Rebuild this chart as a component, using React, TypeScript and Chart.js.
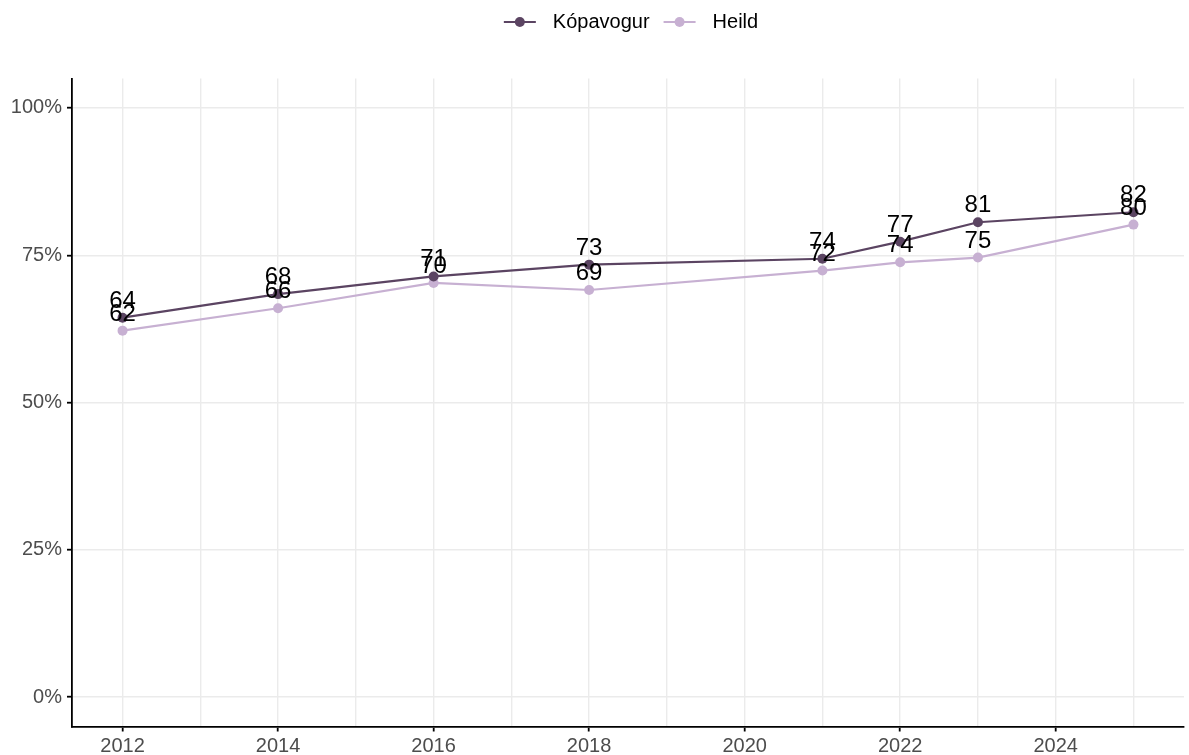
import React, { useEffect, useRef } from "react";
import { Chart, registerables } from "chart.js";

Chart.register(...registerables);

const years = [2012, 2014, 2016, 2018, 2021, 2022, 2023, 2025];
const kopavogur = [0.644, 0.684, 0.714, 0.734, 0.744, 0.773, 0.806, 0.823];
const heild = [0.622, 0.66, 0.703, 0.691, 0.724, 0.738, 0.746, 0.802];
const seriesNames = ["Kópavogur", "Heild"];
const seriesColors = ["#5b4462", "#c7b0d2"];
const xTickValues = [2012, 2013, 2014, 2015, 2016, 2017, 2018, 2019, 2020, 2021, 2022, 2023, 2024, 2025];
const xLabelYears = [2012, 2014, 2016, 2018, 2020, 2022, 2024];
const yTickValues = [0, 0.25, 0.5, 0.75, 1];
const yTickLabels = ["0%", "25%", "50%", "75%", "100%"];

const FONT = '"Liberation Sans", Arial, Helvetica, sans-serif';

const dataLabelPlugin = {
  id: "dataLabels",
  afterDatasetsDraw(chart: any) {
    const ctx = chart.ctx;
    ctx.save();
    ctx.font = `24px ${FONT}`;
    ctx.fillStyle = "#000";
    ctx.textAlign = "center";
    ctx.textBaseline = "alphabetic";
    chart.data.datasets.forEach((ds: any, di: number) => {
      const meta = chart.getDatasetMeta(di);
      meta.data.forEach((el: any, i: number) => {
        const v = ds.data[i].y;
        ctx.fillText(String(Math.round(v * 100)), el.x, el.y - 10);
      });
    });
    ctx.restore();
  },
};

const legendPlugin = {
  id: "customLegend",
  afterDraw(chart: any) {
    const ctx = chart.ctx;
    const area = chart.chartArea;
    ctx.save();
    ctx.font = `20px ${FONT}`;
    const iconW = 32;
    const iconGap = 17;
    const itemGap = 14;
    const widths = seriesNames.map((n) => ctx.measureText(n).width);
    let total = 0;
    widths.forEach((w, i) => {
      total += iconW + iconGap + w + (i < widths.length - 1 ? itemGap : 0);
    });
    let x = (area.left + area.right) / 2 - total / 2 + 3;
    const y = 22;
    seriesNames.forEach((name, i) => {
      ctx.strokeStyle = seriesColors[i];
      ctx.lineWidth = 2.2;
      ctx.beginPath();
      ctx.moveTo(x, y);
      ctx.lineTo(x + iconW, y);
      ctx.stroke();
      ctx.fillStyle = seriesColors[i];
      ctx.beginPath();
      ctx.arc(x + iconW / 2, y, 5, 0, Math.PI * 2);
      ctx.fill();
      ctx.fillStyle = "#000";
      ctx.textAlign = "left";
      ctx.textBaseline = "middle";
      ctx.fillText(name, x + iconW + iconGap, y);
      x += iconW + iconGap + widths[i] + itemGap;
    });
    ctx.restore();
  },
};

export default function App() {
  const ref = useRef<HTMLCanvasElement>(null);

  useEffect(() => {
    if (!ref.current) return;
    const chart = new Chart(ref.current, {
      type: "line",
      data: {
        datasets: [
          {
            label: seriesNames[0],
            data: years.map((yr, i) => ({ x: yr, y: kopavogur[i] })),
            borderColor: seriesColors[0],
            backgroundColor: seriesColors[0],
            pointBackgroundColor: seriesColors[0],
            pointBorderWidth: 0,
            pointRadius: 5,
            borderWidth: 2.2,
            tension: 0,
          },
          {
            label: seriesNames[1],
            data: years.map((yr, i) => ({ x: yr, y: heild[i] })),
            borderColor: seriesColors[1],
            backgroundColor: seriesColors[1],
            pointBackgroundColor: seriesColors[1],
            pointBorderWidth: 0,
            pointRadius: 5,
            borderWidth: 2.2,
            tension: 0,
          },
        ],
      },
      options: {
        responsive: false,
        animation: false,
        devicePixelRatio: 1,
        layout: { padding: { top: 78.5, right: 1.3, left: 0, bottom: 0 } },
        plugins: {
          legend: { display: false },
          tooltip: { enabled: false },
        },
        scales: {
          x: {
            type: "linear",
            min: 2011.35,
            max: 2025.65,
            afterBuildTicks: (scale: any) => {
              scale.ticks = xTickValues.map((v) => ({ value: v }));
            },
            afterFit: (scale: any) => {
              scale.height = 28.5;
            },
            ticks: {
              autoSkip: false,
              maxRotation: 0,
              padding: 3,
              color: "#4d4d4d",
              font: { family: FONT, size: 20 },
              callback: (v: any) => (xLabelYears.includes(Number(v)) ? String(v) : ""),
            },
            grid: {
              color: "#ebebeb",
              lineWidth: 1.4,
              tickLength: 5,
              tickWidth: 1.8,
              tickColor: (c: any) =>
                c.tick && xLabelYears.includes(c.tick.value) ? "#000" : "rgba(0,0,0,0)",
            },
            border: { display: true, color: "#000", width: 1.8 },
          },
          y: {
            type: "linear",
            min: -0.05,
            max: 1.05,
            afterBuildTicks: (scale: any) => {
              scale.ticks = yTickValues.map((v) => ({ value: v }));
            },
            afterFit: (scale: any) => {
              scale.width = 72;
            },
            ticks: {
              padding: 5,
              color: "#4d4d4d",
              font: { family: FONT, size: 20 },
              callback: (v: any) => {
                const idx = yTickValues.findIndex((t) => Math.abs(t - Number(v)) < 1e-9);
                return idx >= 0 ? yTickLabels[idx] : "";
              },
            },
            grid: {
              color: "#ebebeb",
              lineWidth: 1.4,
              tickLength: 5,
              tickWidth: 1.8,
              tickColor: "#000",
            },
            border: { display: true, color: "#000", width: 1.8 },
          },
        },
      },
      plugins: [dataLabelPlugin, legendPlugin],
    } as any);
    return () => chart.destroy();
  }, []);

  return (
    <div style={{ position: "absolute", left: 0, top: 0, width: 1189, height: 755, background: "#fff" }}>
      <canvas ref={ref} width={1189} height={755} style={{ display: "block" }} />
    </div>
  );
}
